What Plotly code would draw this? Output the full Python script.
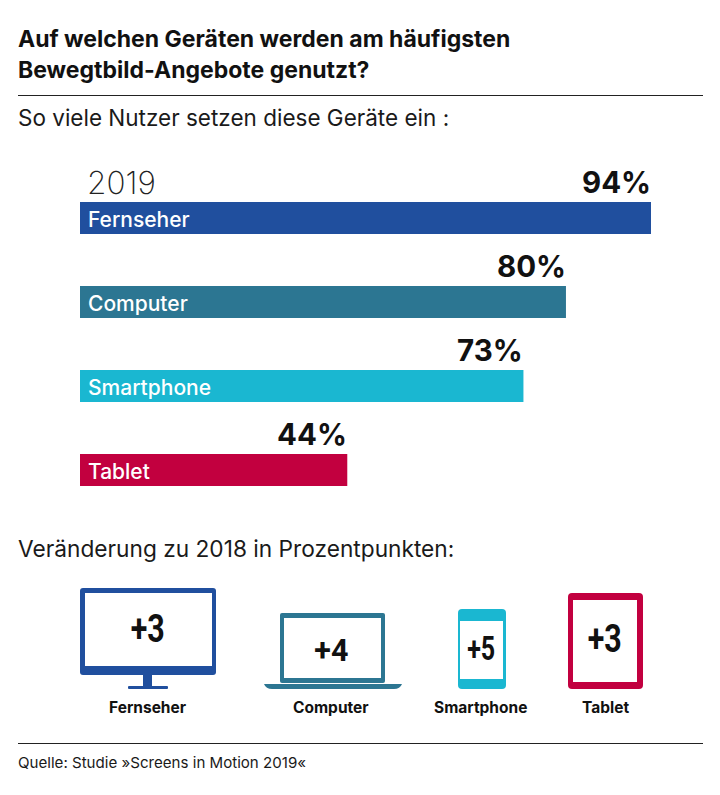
import json
import plotly.graph_objects as go

categories = ["Fernseher", "Computer", "Smartphone", "Tablet"]
shares_2019 = [94, 80, 73, 44]
changes = ["+3", "+4", "+5", "+3"]
colors = ["#204f9e", "#2c7692", "#1ab7d1", "#c2003f"]
title_lines = ["Auf welchen Geräten werden am häufigsten", "Bewegtbild-Angebote genutzt?"]
subtitle = "So viele Nutzer setzen diese Geräte ein :"
change_title = "Veränderung zu 2018 in Prozentpunkten:"
source = "Quelle: Studie »Screens in Motion 2019«"

W, H = 720, 795
FONT = "Inter"
INK = "#1a1a1a"

def px(x):
    return x / W

def py(y):
    return 1 - y / H

PX_PER_PCT = 571 / 94
BAR_STEP = 84

fig = go.Figure(go.Bar(
    y=categories, x=shares_2019, orientation="h", width=32 / BAR_STEP,
    marker=dict(color=colors, line_width=0), hoverinfo="skip",
))

shapes = []

def rect(x0, y0, x1, y1, color, r=0):
    d = (f"M{px(x0 + r)},{py(y0)} L{px(x1 - r)},{py(y0)} Q{px(x1)},{py(y0)} {px(x1)},{py(y0 + r)} "
         f"L{px(x1)},{py(y1 - r)} Q{px(x1)},{py(y1)} {px(x1 - r)},{py(y1)} "
         f"L{px(x0 + r)},{py(y1)} Q{px(x0)},{py(y1)} {px(x0)},{py(y1 - r)} "
         f"L{px(x0)},{py(y0 + r)} Q{px(x0)},{py(y0)} {px(x0 + r)},{py(y0)} Z")
    shapes.append(dict(type="path", xref="paper", yref="paper", path=d,
                       fillcolor=color, line_width=0, layer="above"))

def rule(y):
    shapes.append(dict(type="line", xref="paper", yref="paper", x0=px(18), x1=px(703),
                       y0=py(y), y1=py(y), line=dict(color="#222222", width=1)))

rule(95.5)
rule(743.5)

# Monitor
c = colors[0]
rect(143, 672, 152, 687, c)
rect(128, 686, 168, 689, c, 1)
rect(80, 588, 216, 675, c, 3)
rect(85, 593, 212, 666, "white")
# Laptop
c = colors[1]
rect(280, 613, 385, 683, c, 2)
rect(284, 618, 381, 678, "white")
shapes.append(dict(type="path", xref="paper", yref="paper", line_width=0, fillcolor=c, layer="above",
                   path=(f"M{px(264)},{py(684)} L{px(402)},{py(684)} Q{px(400)},{py(689)} {px(394)},{py(689)} "
                         f"L{px(272)},{py(689)} Q{px(266)},{py(689)} {px(264)},{py(684)} Z")))
# Smartphone
c = colors[2]
rect(458, 609, 506, 689, c, 4)
rect(460, 621, 503, 679, "white")
# Tablet
c = colors[3]
rect(568, 593, 643, 689, c, 4)
rect(573, 600, 637, 682, "white")

annotations = []

def text(x, y, s, size, color=INK, weight=400, anchor="left", family=FONT):
    annotations.append(dict(xref="paper", yref="paper", x=px(x), y=py(y), text=s, showarrow=False,
                            xanchor=anchor, yanchor="middle", align=anchor,
                            font=dict(family=family, size=size, color=color, weight=weight)))

text(16, 39, title_lines[0], 23, "#111111", 700)
text(16, 70, title_lines[1], 23, "#111111", 700)
text(16, 118, subtitle, 22.5)
text(85, 183, "2019", 31.5, "#222222", 200)
text(16, 548, change_title, 22.7)
text(16, 762, source, 15.1)

for cat, val in zip(categories, shares_2019):
    annotations.append(dict(x=0, y=cat, xref="x", yref="y", xshift=6, yshift=-1, text=cat, showarrow=False,
                            xanchor="left", yanchor="middle",
                            font=dict(family=FONT, size=21, color="white", weight=500)))
    annotations.append(dict(x=val, y=cat, xref="x", yref="y", xshift=2, yshift=16, text=f"{val}%", showarrow=False,
                            xanchor="right", yanchor="bottom",
                            font=dict(family=FONT, size=29.5, color="#111111", weight=700)))

ICON_CENTRES = [(148, 629, 707), (331, 650, 707), (481, 649, 707), (605, 639, 707)]
NUM_SIZES = [39, 31, 32.5, 39]
NUM_WIDTHS = [34, 34, 28, 34]
for cat, ch, (cx, cy, ly), ns in zip(categories, changes, ICON_CENTRES, NUM_SIZES):
    text(cx, cy, ch, ns, "#111111", 700, "center", "Roboto")
    text(cx, ly, cat, 15.5, "#111111", 700, "center")

fig.update_layout(
    width=W, height=H, margin=dict(l=0, r=0, t=0, b=0),
    paper_bgcolor="white", plot_bgcolor="white", showlegend=False,
    xaxis=dict(range=[-80 / PX_PER_PCT, (W - 80) / PX_PER_PCT], visible=False, fixedrange=True),
    yaxis=dict(type="category", categoryorder="array", categoryarray=categories,
               range=[(H - 218) / BAR_STEP, -218 / BAR_STEP], visible=False, fixedrange=True),
    shapes=shapes, annotations=annotations,
)

# Condense the numerals inside the icons (no condensed bold font is installed).
condense = (
    "document.body.style.margin='0';"
    f"var widths={json.dumps(NUM_WIDTHS)},i=0;"
    "document.querySelectorAll('.annotation-text').forEach(function(t){"
    "if(t.textContent.charAt(0)==='+'){"
    "t.setAttribute('textLength',widths[i++]);"
    "t.setAttribute('lengthAdjust','spacingAndGlyphs');}});"
)
fig.write_html("out.html", config={"displayModeBar": False}, post_script=condense)
